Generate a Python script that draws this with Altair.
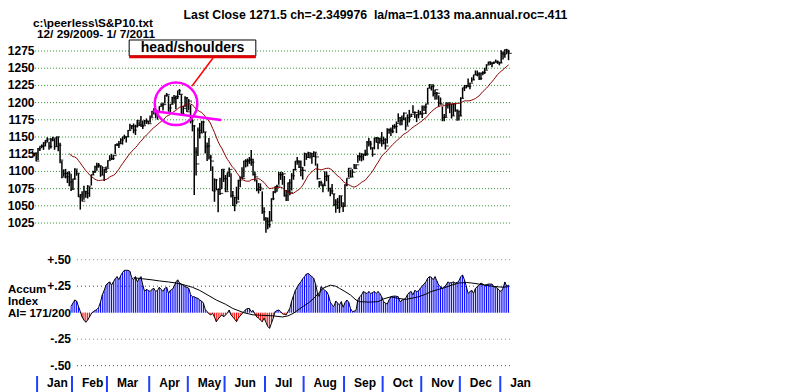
import altair as alt
import pandas as pd

# ---------------- data ----------------
# trading-day index 0 = 12/29/2009 ... 259 = 1/7/2011
HI = [1130.38, 1126.42, 1127.64,
      1133.87, 1136.63, 1139.19, 1142.46, 1145.39, 1149.74, 1143.00, 1148.40, 1150.41, 1147.77,
      1150.45, 1150.23, 1141.58, 1115.49, 1102.97, 1103.69, 1099.51, 1100.22, 1096.45,
      1089.38, 1104.73, 1102.70, 1097.25, 1067.13, 1071.20, 1079.28, 1071.72, 1080.04, 1077.81,
      1095.67, 1101.03, 1108.24, 1112.42, 1112.29, 1108.58, 1107.36, 1103.50, 1107.24,
      1116.11, 1123.46, 1125.64, 1123.73, 1139.38, 1141.05, 1144.10, 1148.26, 1150.24, 1153.41,
      1150.51, 1160.28, 1169.20, 1167.09, 1169.61, 1167.82, 1174.72, 1173.04, 1180.69, 1173.93,
      1174.85, 1177.03, 1173.31,
      1181.43, 1187.73, 1191.80, 1189.60, 1188.52, 1194.66, 1199.20, 1199.98, 1210.65, 1213.92,
      1210.17, 1197.87, 1208.50, 1210.99, 1210.27, 1217.28, 1219.80, 1212.05, 1195.05, 1209.36, 1207.99,
      1205.13, 1196.60, 1175.95, 1167.58, 1135.13, 1163.85, 1170.48, 1173.57, 1173.57, 1157.19,
      1141.88, 1148.66, 1124.27, 1107.34, 1089.95, 1089.03, 1074.75, 1090.75, 1103.52, 1102.96,
      1094.77, 1098.38, 1105.67, 1097.43, 1071.36, 1063.15, 1077.74, 1087.85, 1092.25, 1105.87,
      1115.59, 1117.72, 1118.74, 1120.91, 1131.23, 1118.50, 1099.64, 1088.16, 1083.11, 1082.60,
      1071.06, 1048.08,
      1033.58, 1032.95, 1042.50, 1060.89, 1071.25, 1078.16, 1080.78, 1099.08, 1099.46, 1099.10,
      1093.35, 1073.14, 1083.94, 1088.50, 1097.50, 1103.73, 1115.01, 1120.95, 1116.11, 1115.90, 1106.44,
      1127.30, 1125.44, 1128.75, 1126.56, 1126.56, 1129.24, 1127.53, 1111.37, 1086.15, 1086.32,
      1082.61, 1100.14, 1099.77, 1093.51, 1075.63, 1081.58, 1067.36, 1059.38, 1061.45, 1065.21,
      1064.29, 1055.14,
      1081.30, 1090.10, 1105.10, 1102.60, 1103.26, 1110.88, 1110.27, 1123.87, 1127.36, 1126.46,
      1125.07, 1131.47, 1144.38, 1148.59, 1144.38, 1134.81, 1148.90, 1149.92, 1150.00, 1148.79, 1157.16,
      1150.30, 1148.16, 1162.76, 1162.33, 1163.87, 1167.73, 1168.68, 1172.58, 1184.38, 1178.89,
      1181.20, 1185.53, 1178.64, 1182.94, 1189.43, 1183.93, 1196.14, 1187.11, 1183.24, 1189.53, 1187.86,
      1195.81, 1195.88, 1198.30, 1221.25, 1227.08, 1224.57, 1226.84, 1218.75, 1215.45, 1210.50,
      1207.43, 1194.08, 1183.56, 1200.65, 1200.26, 1198.94, 1197.84, 1198.50, 1198.35, 1189.40, 1187.76,
      1207.61, 1221.58, 1225.57, 1225.73, 1235.05, 1228.93, 1236.82, 1240.40, 1246.73, 1246.59,
      1244.25, 1243.74, 1245.60, 1250.66, 1255.82, 1259.39, 1260.03, 1258.59, 1259.90, 1262.60,
      1261.09, 1259.34,
      1276.17, 1274.12, 1277.63, 1278.17, 1276.83]

LO = [1126.08, 1121.94, 1114.81,
      1116.56, 1129.66, 1133.95, 1131.32, 1136.22, 1142.02, 1131.39, 1133.18, 1143.80, 1131.39,
      1135.77, 1129.25, 1111.84, 1090.18, 1092.63, 1089.86, 1083.11, 1078.46, 1071.59,
      1073.89, 1087.96, 1093.81, 1062.78, 1044.50, 1056.51, 1058.74, 1061.90, 1060.59, 1062.97,
      1079.46, 1094.72, 1097.66, 1100.80, 1105.38, 1092.18, 1094.60, 1086.02, 1097.56,
      1105.36, 1116.51, 1116.58, 1116.66, 1125.12, 1136.77, 1133.92, 1140.09, 1138.99, 1146.97,
      1141.99, 1150.35, 1159.31, 1161.16, 1155.33, 1152.88, 1163.83, 1166.01, 1165.09, 1161.48,
      1167.73, 1168.97, 1168.52,
      1170.69, 1178.71, 1182.77, 1177.25, 1175.12, 1187.15, 1194.71, 1188.60, 1198.69, 1208.50,
      1186.77, 1183.68, 1197.52, 1198.85, 1190.19, 1205.10, 1211.07, 1181.62, 1181.81, 1193.38, 1186.32,
      1188.59, 1169.84, 1158.15, 1065.79, 1094.15, 1122.27, 1147.71, 1155.79, 1156.14, 1126.14,
      1114.96, 1117.20, 1100.66, 1071.58, 1055.90, 1072.70, 1040.78, 1065.59, 1074.27, 1084.78,
      1069.89, 1072.03, 1091.81, 1062.04, 1049.86, 1042.17, 1052.25, 1058.24, 1077.12, 1089.30,
      1091.66, 1105.87, 1107.13, 1110.88, 1108.24, 1094.18, 1085.31, 1071.21, 1067.89, 1071.45,
      1038.38, 1028.33,
      1010.91, 1015.93, 1018.35, 1028.32, 1058.24, 1068.10, 1070.45, 1080.53, 1087.68, 1080.53,
      1063.32, 1056.88, 1056.88, 1065.25, 1072.22, 1087.88, 1101.30, 1109.78, 1105.13, 1092.82, 1088.01,
      1107.66, 1116.76, 1119.46, 1118.81, 1111.21, 1120.91, 1108.35, 1088.01, 1076.69, 1079.00,
      1069.62, 1079.58, 1085.76, 1070.66, 1063.91, 1067.08, 1049.50, 1039.83, 1045.40, 1039.70,
      1048.79, 1040.88,
      1049.72, 1078.51, 1091.27, 1091.15, 1091.85, 1103.92, 1103.92, 1112.43, 1115.58, 1114.63,
      1116.08, 1122.43, 1122.79, 1136.22, 1131.58, 1121.44, 1132.09, 1142.00, 1132.09, 1140.26, 1136.08,
      1139.42, 1131.87, 1140.68, 1154.85, 1151.41, 1155.58, 1162.02, 1155.71, 1171.32, 1166.71,
      1167.12, 1174.55, 1159.71, 1166.74, 1171.17, 1178.99, 1184.74, 1177.72, 1171.70, 1177.10, 1183.26,
      1177.65, 1187.86, 1183.56, 1198.34, 1220.71, 1217.55, 1208.94, 1204.33, 1204.49, 1194.08,
      1197.15, 1173.00, 1173.00, 1178.59, 1191.31, 1184.58, 1176.91, 1180.73, 1186.71, 1173.64, 1174.14,
      1180.55, 1206.07, 1216.82, 1220.67, 1223.25, 1219.50, 1229.63, 1232.58, 1240.34, 1238.17,
      1232.85, 1232.85, 1239.87, 1241.51, 1247.82, 1254.94, 1254.51, 1251.48, 1256.22, 1258.86,
      1256.32, 1254.19,
      1257.62, 1262.66, 1265.36, 1270.43, 1261.70]

CL = [1126.42, 1126.42, 1115.10,
      1132.99, 1136.52, 1137.14, 1141.69, 1144.98, 1146.98, 1136.22, 1145.68, 1148.46, 1136.03,
      1150.23, 1138.04, 1116.48, 1091.76, 1096.78, 1092.17, 1097.50, 1084.53, 1073.87,
      1089.19, 1103.32, 1097.28, 1063.11, 1066.19, 1056.74, 1070.52, 1068.13, 1078.47, 1075.51,
      1094.87, 1099.51, 1106.75, 1109.17, 1108.01, 1094.60, 1105.24, 1102.94, 1104.49,
      1115.71, 1118.31, 1118.79, 1122.97, 1138.70, 1138.50, 1140.45, 1145.61, 1150.24, 1149.99,
      1150.51, 1159.46, 1166.21, 1165.83, 1159.90, 1165.81, 1174.17, 1167.72, 1165.73, 1166.59,
      1173.22, 1173.27, 1169.43,
      1178.10, 1187.44, 1189.44, 1182.45, 1186.44, 1194.37, 1196.48, 1197.30, 1210.65, 1211.67,
      1192.13, 1197.52, 1207.17, 1205.94, 1208.67, 1217.28, 1212.05, 1183.71, 1191.36, 1206.78, 1186.69,
      1202.26, 1173.60, 1165.90, 1128.15, 1110.88, 1159.73, 1155.79, 1171.67, 1157.44, 1135.68,
      1136.94, 1120.80, 1115.05, 1071.59, 1087.69, 1073.65, 1074.03, 1067.95, 1103.06, 1089.41,
      1070.71, 1098.38, 1102.83, 1064.88, 1050.47, 1062.00, 1055.69, 1086.84, 1091.60, 1089.63,
      1115.23, 1114.61, 1116.04, 1117.51, 1113.20, 1095.31, 1092.04, 1073.69, 1076.76, 1074.57,
      1041.24, 1030.71,
      1027.37, 1022.58, 1028.06, 1060.27, 1070.25, 1077.96, 1078.75, 1095.34, 1095.17, 1096.48,
      1064.88, 1071.25, 1083.48, 1069.59, 1093.67, 1102.66, 1115.01, 1113.84, 1106.13, 1101.53, 1101.60,
      1125.86, 1120.46, 1127.24, 1125.81, 1121.64, 1127.79, 1121.06, 1089.47, 1083.61, 1079.25,
      1079.38, 1092.54, 1094.16, 1075.63, 1071.69, 1067.36, 1051.87, 1055.33, 1047.22, 1064.59,
      1048.92, 1049.33,
      1080.29, 1090.10, 1104.51, 1091.84, 1098.87, 1104.18, 1109.55, 1121.90, 1121.10, 1125.07,
      1124.66, 1125.59, 1142.71, 1139.78, 1134.28, 1124.83, 1148.67, 1142.16, 1147.70, 1144.73, 1141.20,
      1146.24, 1137.03, 1160.75, 1159.97, 1158.06, 1165.15, 1165.32, 1169.77, 1178.10, 1173.81,
      1176.19, 1184.71, 1165.90, 1178.17, 1180.26, 1183.08, 1185.62, 1185.64, 1182.45, 1183.78, 1183.26,
      1184.38, 1193.57, 1197.96, 1221.06, 1225.85, 1223.25, 1213.40, 1218.71, 1213.54, 1199.21,
      1197.75, 1178.34, 1178.59, 1196.69, 1199.73, 1197.84, 1180.73, 1198.35, 1189.40, 1187.76, 1180.55,
      1206.07, 1221.53, 1224.71, 1223.12, 1223.75, 1228.28, 1233.00, 1240.40, 1240.46, 1241.59,
      1235.23, 1242.87, 1243.91, 1247.08, 1254.60, 1258.84, 1256.77, 1257.54, 1258.51, 1259.78,
      1257.88, 1257.64,
      1271.87, 1270.20, 1276.56, 1273.85, 1271.50]

AI_START = 21
AI = [0.06, 0.09, 0.12, 0.11, 0.06, 0.01, -0.04, -0.07, -0.09, -0.07,
      -0.04, -0.01, 0.01, 0.02, 0.03, 0.05, 0.10, 0.17, 0.21, 0.26,
      0.28, 0.29, 0.26, 0.29, 0.32, 0.34, 0.31, 0.35, 0.38, 0.40,
      0.40, 0.40, 0.39, 0.33, 0.31, 0.34, 0.29, 0.32, 0.34, 0.26,
      0.20, 0.22, 0.21, 0.20, 0.22, 0.23, 0.20, 0.21, 0.24, 0.22,
      0.20, 0.23, 0.24, 0.18, 0.21, 0.22, 0.245, 0.29, 0.31, 0.28,
      0.27, 0.26, 0.245, 0.24, 0.23, 0.17, 0.15, 0.15, 0.14, 0.135,
      0.12, 0.11, 0.09, 0.03, 0.01, -0.01, -0.02, -0.005, -0.04, -0.085,
      -0.06, -0.04, -0.02, -0.04, -0.02, -0.005, 0.025, -0.02, -0.04, -0.06,
      -0.085, -0.05, -0.03, -0.01, 0.01, 0.03, 0.04, 0.04, 0.01, 0.02,
      -0.01, -0.04, -0.05, -0.07, -0.085, -0.05, -0.09, -0.13, -0.147, -0.10,
      -0.05, 0.01, 0.02, 0.025, 0.01, -0.01, -0.015, -0.02, 0.01, 0.04,
      0.11, 0.16, 0.21, 0.24, 0.27, 0.29, 0.32, 0.34, 0.365, 0.37,
      0.355, 0.34, 0.325, 0.27, 0.19, 0.15, 0.245, 0.23, 0.21, 0.20,
      0.167, 0.10, 0.073, 0.057, 0.11, 0.09, 0.073, 0.104, 0.05, 0.094,
      0.12, 0.10, 0.04, 0.01, 0.015, 0.02, 0.12, 0.15, 0.167, 0.20,
      0.19, 0.18, 0.20, 0.18, 0.19, 0.20, 0.18, 0.20, 0.18, 0.15,
      0.104, 0.09, 0.082, 0.12, 0.15, 0.155, 0.157, 0.155, 0.15, 0.10,
      0.12, 0.125, 0.135, 0.17, 0.19, 0.20, 0.167, 0.21, 0.20, 0.205,
      0.23, 0.25, 0.27, 0.29, 0.325, 0.34, 0.335, 0.31, 0.34, 0.30,
      0.26, 0.245, 0.23, 0.245, 0.26, 0.29, 0.28, 0.285, 0.29, 0.28,
      0.285, 0.30, 0.34, 0.355, 0.31, 0.25, 0.18, 0.20, 0.21, 0.18,
      0.23, 0.245, 0.26, 0.28, 0.27, 0.26, 0.265, 0.27, 0.27, 0.27,
      0.245, 0.24, 0.23, 0.21, 0.20, 0.23, 0.29, 0.25, 0.26]

SMOOTH_IDX = [55, 60, 65, 69, 74, 78, 83, 87, 91, 96, 100, 105, 109, 115, 120, 126, 131, 136,
              139, 142, 147, 150, 153, 156, 158, 162, 165, 167, 170, 173, 176, 178, 183, 188,
              191, 195, 199, 203, 206, 210, 214, 217, 221, 224, 228, 232, 236, 239, 243, 246,
              250, 253, 256, 259]
SMOOTH_VAL = [0.33, 0.32, 0.31, 0.30, 0.29, 0.28, 0.26, 0.24, 0.21, 0.16, 0.12, 0.08, 0.04, 0.0,
              -0.02, -0.025, -0.03, -0.04, -0.03, -0.005, 0.057, 0.09, 0.135, 0.19, 0.23, 0.26,
              0.25, 0.23, 0.20, 0.167, 0.12, 0.104, 0.10, 0.104, 0.13, 0.15, 0.135, 0.126, 0.135,
              0.15, 0.175, 0.20, 0.22, 0.235, 0.26, 0.28, 0.285, 0.28, 0.27, 0.26, 0.25, 0.245,
              0.24, 0.245]

PRICE_TICKS = [1025, 1050, 1075, 1100, 1125, 1150, 1175, 1200, 1225, 1250, 1275]
AI_TICKS = [0.5, 0.25, -0.25, -0.5]
AI_TICK_TEXT = ["+.50", "+.25", "-.25", "-.50"]
AI_TICK_COLOR = ["#d36a6a", "#444444", "#d36a6a", "#444444"]
MONTHS = ["Jan", "Feb", "Mar", "Apr", "May", "Jun", "Jul", "Aug", "Sep", "Oct", "Nov", "Dec", "Jan"]
MONTH_START = [3, 22, 41, 64, 85, 105, 127, 148, 170, 191, 212, 233, 255]

TITLE = "Last Close 1271.5 ch=-2.349976\u00a0 la/ma=1.0133 ma.annual.roc=.411"
FILE_LINE = "c:\\peerless\\S&P10.txt"
DATE_LINE = "12/ 29/2009- 1/ 7/2011"
AI_LABELS = ["Accum", "Index", "AI= 171/200"]
NOTE = "head/shoulders"

# ---------------- layout constants ----------------
W, H = 784, 384
X_DOM = [-13.33, 413.22]
P_DOM = [779.4, 1337.5]
A_DOM = [-0.748, 2.8745]
FONT = "Liberation Sans"
GRID_UP = [1.4, 259.8]
GRID_LOW = [24.2, 259.8]

xs = alt.Scale(domain=X_DOM, nice=False, zero=False)
ps = alt.Scale(domain=P_DOM, nice=False, zero=False)
ascale = alt.Scale(domain=A_DOM, nice=False, zero=False)


def XQ(f):
    return alt.X(f, type="quantitative", scale=xs, axis=None)


def X2(f):
    return alt.X2(f)


def YP(f):
    return alt.Y(f, type="quantitative", scale=ps, axis=None)


def YA(f):
    return alt.Y(f, type="quantitative", scale=ascale, axis=None)


price = pd.DataFrame({"idx": list(range(len(CL))), "hi": HI, "lo": LO, "cl": CL})
ai = pd.DataFrame({"idx": list(range(AI_START, AI_START + len(AI))), "ai": AI})
ai["zero"] = 0.0
smooth = pd.DataFrame({"idx": SMOOTH_IDX, "v": SMOOTH_VAL})
pgrid = pd.DataFrame({"lvl": PRICE_TICKS, "x0": GRID_UP[0], "x1": GRID_UP[1],
                      "t": [str(v) for v in PRICE_TICKS]})
agrid = pd.DataFrame({"lvl": AI_TICKS, "x0": GRID_LOW[0], "x1": GRID_LOW[1],
                      "t": AI_TICK_TEXT, "c": AI_TICK_COLOR})
months = pd.DataFrame({"m": MONTHS, "pos": [s - 0.5 for s in MONTH_START]})

layers = []

# upper grid + labels
layers.append(alt.Chart(pgrid).mark_rule(color="#2f8f2f", strokeDash=[1, 2], strokeWidth=1)
              .encode(x=XQ("x0"), x2=X2("x1"), y=YP("lvl")))
layers.append(alt.Chart(pgrid).mark_text(align="right", baseline="middle", font=FONT,
                                         fontSize=12, fontWeight="bold", color="black")
              .encode(x=alt.value(26.5), y=YP("lvl"), text="t:N"))

# price bars
layers.append(alt.Chart(price).mark_rule(color="black", strokeWidth=1.5)
              .encode(x=XQ("idx"), y=YP("lo"), y2=alt.Y2("hi")))
layers.append(alt.Chart(price).mark_tick(orient="horizontal", size=3.5, thickness=1.2,
                                         xOffset=1.5, color="black")
              .encode(x=XQ("idx"), y=YP("cl")))

# 21-day moving average
layers.append(alt.Chart(price)
              .transform_window(ma="mean(cl)", n="count()", frame=[-20, 0],
                                sort=[alt.SortField("idx")])
              .transform_filter("datum.n >= 21")
              .mark_line(color="#8a0000", strokeWidth=1)
              .encode(x=XQ("idx"), y=YP("ma")))

# lower grid + labels
layers.append(alt.Chart(agrid).mark_rule(strokeDash=[1, 3], strokeWidth=1)
              .encode(x=XQ("x0"), x2=X2("x1"), y=YA("lvl"), color=alt.Color("c:N", scale=None)))
layers.append(alt.Chart(pd.DataFrame({"lvl": [0.0], "x0": [GRID_LOW[0]], "x1": [GRID_LOW[1]]}))
              .mark_rule(strokeDash=[1, 3], strokeWidth=1, color="#e8e08a")
              .encode(x=XQ("x0"), x2=X2("x1"), y=YA("lvl")))
layers.append(alt.Chart(agrid).mark_text(align="right", baseline="middle", font=FONT,
                                         fontSize=12, fontWeight="bold", color="black")
              .encode(x=alt.value(63), y=YA("lvl"), text="t:N"))

# accumulation index histogram
layers.append(alt.Chart(ai).mark_rule(strokeWidth=1)
              .encode(x=XQ("idx"), y=YA("ai"), y2=alt.Y2("zero"),
                      color=alt.condition("datum.ai >= 0", alt.value("#0000ff"), alt.value("#ff0000"))))
layers.append(alt.Chart(ai).mark_line(color="black", strokeWidth=1)
              .encode(x=XQ("idx"), y=YA("ai")))
layers.append(alt.Chart(smooth).mark_line(color="black", strokeWidth=1)
              .encode(x=XQ("idx"), y=YA("v")))

# months
layers.append(alt.Chart(months).mark_rule(color="#2040ff", strokeWidth=2)
              .encode(x=XQ("pos"), y=alt.value(368), y2=alt.value(384)))
layers.append(alt.Chart(months).mark_text(align="left", baseline="middle", dx=10, font=FONT,
                                          fontSize=12, fontWeight="bold", color="black")
              .encode(x=XQ("pos"), y=alt.value(375), text="m:N"))

# left labels of the lower panel
ai_lab = pd.DataFrame({"t": AI_LABELS, "yy": [285, 297, 309], "fs": [11.5, 11.5, 11.5]})
layers.append(alt.Chart(ai_lab).mark_text(align="left", baseline="alphabetic", font=FONT,
                                          fontWeight="bold", color="black")
              .encode(x=alt.value(0), y=alt.Y("yy:Q", scale=None), text="t:N",
                      size=alt.Size("fs:Q", scale=None)))

# header texts
layers.append(alt.Chart(pd.DataFrame({"t": [TITLE]})).mark_text(
    align="center", baseline="alphabetic", font=FONT, fontSize=12.3, fontWeight="bold", color="black")
    .encode(x=alt.value(367.5), y=alt.value(11.2), text="t:N"))
layers.append(alt.Chart(pd.DataFrame({"t": [FILE_LINE, DATE_LINE], "xx": [25, 29], "yy": [19.4, 30.0]}))
              .mark_text(align="left", baseline="alphabetic", font=FONT, fontSize=11.8,
                         fontWeight="bold", color="black")
              .encode(x=alt.X("xx:Q", scale=None), y=alt.Y("yy:Q", scale=None), text="t:N"))

# annotation: head/shoulders
box = pd.DataFrame({"x0": [52.6], "x1": [121.5], "y0": [1267.7], "y1": [1291.0]})
layers.append(alt.Chart(box).mark_rect(fill="white", stroke="black", strokeWidth=1)
              .encode(x=XQ("x0"), x2=X2("x1"), y=YP("y0"), y2=alt.Y2("y1")))
layers.append(alt.Chart(pd.DataFrame({"t": [NOTE], "x": [87.05], "y": [1279.4]}))
              .mark_text(align="center", baseline="middle", font=FONT, fontSize=14,
                         fontWeight="bold", color="black")
              .encode(x=XQ("x"), y=YP("y"), text="t:N"))
layers.append(alt.Chart(pd.DataFrame({"x0": [52.6], "x1": [121.5], "y": [1266.8]}))
              .mark_rule(color="#e00000", strokeWidth=3)
              .encode(x=XQ("x0"), x2=X2("x1"), y=YP("y")))
layers.append(alt.Chart(pd.DataFrame({"x0": [98.2], "x1": [86.8], "y0": [1264.8], "y1": [1224.1]}))
              .mark_rule(color="#ff0000", strokeWidth=1.5)
              .encode(x=XQ("x0"), x2=X2("x1"), y=YP("y0"), y2=alt.Y2("y1")))
layers.append(alt.Chart(pd.DataFrame({"x": [78.1], "y": [1198.3]}))
              .mark_point(shape="circle", size=1810, filled=False, color="#ff00ff",
                          strokeWidth=2.5, opacity=1)
              .encode(x=XQ("x"), y=YP("y")))
layers.append(alt.Chart(pd.DataFrame({"x0": [65.6], "x1": [102.6], "y0": [1187.8], "y1": [1174.7]}))
              .mark_rule(color="#ff00ff", strokeWidth=2.5)
              .encode(x=XQ("x0"), x2=X2("x1"), y=YP("y0"), y2=alt.Y2("y1")))

chart = (alt.layer(*layers)
         .resolve_scale(y="independent")
         .properties(width=W, height=H, autosize=alt.AutoSizeParams(type="none"), padding=0,
                     background="white")
         .configure_view(stroke=None))

chart.save("out.html", embed_options={"renderer": "svg", "actions": False})
